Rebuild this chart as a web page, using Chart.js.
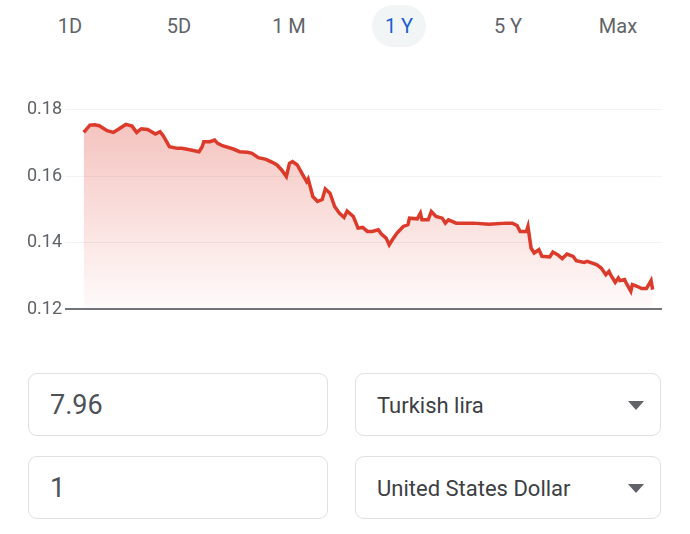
<!DOCTYPE html>
<html>
<head>
<meta charset="utf-8">
<script src="https://cdn.jsdelivr.net/npm/chart.js@4.4.0/dist/chart.umd.min.js"></script>
<style>
  body { margin: 0; width: 690px; height: 534px; background: #fff; font-family: Roboto, sans-serif; position: relative; overflow: hidden; }
  .tab { position: absolute; top: 5px; height: 42px; line-height: 42px; width: 60px; margin-left: -30px; text-align: center; font-size: 20px; color: #5f6368; }
  .tab.active { color: #1a5fd0; background: #f1f5f6; border-radius: 21px; width: 54px; margin-left: -27px; }
  #wrap { position: absolute; left: 0; top: 96px; width: 690px; height: 227px; }
  .box { position: absolute; height: 63px; border: 1px solid #dfe1e5; border-radius: 9px; box-sizing: border-box; }
  .box span { position: absolute; left: 21px; top: 50%; transform: translateY(-50%); }
  .num { font-size: 27px; color: #4d5156; }
  .cur { font-size: 22px; color: #3c4043; }
  .tri { position: absolute; right: 16px; top: 27px; width: 0; height: 0; border-left: 8px solid transparent; border-right: 8px solid transparent; border-top: 9px solid #5f6368; }
</style>
</head>
<body>
<div class="tab" style="left:70px">1D</div>
<div class="tab" style="left:179px">5D</div>
<div class="tab" style="left:289px">1 M</div>
<div class="tab active" style="left:399px">1 Y</div>
<div class="tab" style="left:508px">5 Y</div>
<div class="tab" style="left:618px">Max</div>

<div id="wrap"><canvas id="rateChart"></canvas></div>

<div class="box" style="left:28px;top:373px;width:300px"><span class="num">7.96</span></div>
<div class="box" style="left:355px;top:373px;width:306px"><span class="cur">Turkish lira</span><div class="tri"></div></div>
<div class="box" style="left:28px;top:456px;width:300px"><span class="num">1</span></div>
<div class="box" style="left:355px;top:456px;width:306px"><span class="cur">United States Dollar</span><div class="tri"></div></div>

<script>
// days since start of the 1Y window, and TRY -> USD rate
const days = [0, 4, 7, 10, 15, 19, 22, 27, 31, 34,
    37, 41, 46, 49, 51, 55, 60, 63, 68, 74,
    76, 77, 81, 84, 86, 89, 96, 100, 105, 108,
    112, 117, 121, 124, 127, 130, 132, 134, 137, 140,
    143, 144, 147, 150, 153, 155, 158, 161, 164, 167,
    169, 173, 176, 179, 182, 185, 189, 191, 194, 196,
    198, 201, 205, 208, 209, 214, 216, 217, 221, 223,
    226, 230, 232, 234, 239, 250, 260, 271, 275, 278,
    280, 284, 285, 287, 289, 292, 294, 299, 301, 304,
    307, 310, 314, 316, 321, 323, 329, 332, 335, 337,
    338, 341, 343, 344, 347, 348, 351, 352, 355, 358,
    361, 364, 365];
const rates = [0.1732, 0.1754, 0.1755, 0.1752, 0.1737, 0.1732, 0.1741, 0.1756, 0.1751, 0.1732,
    0.1743, 0.1741, 0.1727, 0.1734, 0.1722, 0.1689, 0.1684, 0.1684, 0.1680, 0.1674,
    0.1689, 0.1704, 0.1704, 0.1709, 0.1699, 0.1692, 0.1682, 0.1674, 0.1672, 0.1669,
    0.1656, 0.1651, 0.1642, 0.1634, 0.1619, 0.1599, 0.1639, 0.1644, 0.1634, 0.1609,
    0.1584, 0.1592, 0.1539, 0.1524, 0.1530, 0.1562, 0.1549, 0.1509, 0.1489, 0.1476,
    0.1495, 0.1479, 0.1444, 0.1446, 0.1434, 0.1434, 0.1439, 0.1426, 0.1414, 0.1394,
    0.1409, 0.1429, 0.1449, 0.1454, 0.1474, 0.1472, 0.1489, 0.1469, 0.1469, 0.1494,
    0.1479, 0.1474, 0.1459, 0.1469, 0.1459, 0.1459, 0.1456, 0.1459, 0.1459, 0.1452,
    0.1434, 0.1434, 0.1449, 0.1384, 0.1369, 0.1379, 0.1359, 0.1357, 0.1372, 0.1364,
    0.1352, 0.1366, 0.1359, 0.1346, 0.1341, 0.1344, 0.1334, 0.1324, 0.1304, 0.1314,
    0.1304, 0.1281, 0.1294, 0.1286, 0.1289, 0.1279, 0.1254, 0.1274, 0.1269, 0.1262,
    0.1262, 0.1286, 0.1259];
const yTicks = [0.12, 0.14, 0.16, 0.18];

const ctx = document.getElementById('rateChart');

const rateChart = new Chart(ctx, {
    type: 'line',
    data: {
        datasets: [{
            data: days.map((d, i) => ({ x: d, y: rates[i] })),
            borderColor: '#dc3a2a',
            borderWidth: 3.5,
            pointRadius: 0,
            tension: 0,
            fill: 'start',
            backgroundColor: function (c) {
                const area = c.chart.chartArea;
                if (!area) return 'rgba(220,58,42,0.25)';
                const g = c.chart.ctx.createLinearGradient(0, area.top, 0, area.bottom);
                g.addColorStop(0, 'rgba(220,58,42,0.32)');
                g.addColorStop(1, 'rgba(220,58,42,0.02)');
                return g;
            }
        }]
    },
    options: {
        responsive: true,
        maintainAspectRatio: false,
        animation: false,
        layout: { padding: { top: 12, right: 28, bottom: 10, left: 0 } },
        plugins: { legend: { display: false }, tooltip: { enabled: false } },
        scales: {
            x: { type: 'linear', min: -12, max: 371, display: false },
            y: {
                min: 0.12,
                max: 0.18,
                afterFit: function (axis) { axis.width = 65; },
                afterBuildTicks: function (axis) { axis.ticks = yTicks.map(v => ({ value: v })); },
                border: { display: false },
                grid: {
                    drawTicks: false,
                    color: c => Math.abs(c.tick.value - 0.12) < 1e-6 ? '#70757a' : '#f1f3f4',
                    lineWidth: c => Math.abs(c.tick.value - 0.12) < 1e-6 ? 2 : 1
                },
                ticks: {
                    padding: 3,
                    color: '#5f6368',
                    font: { family: 'Roboto', size: 18 },
                    callback: v => v.toFixed(2)
                }
            }
        }
    }
});
</script>
</body>
</html>
